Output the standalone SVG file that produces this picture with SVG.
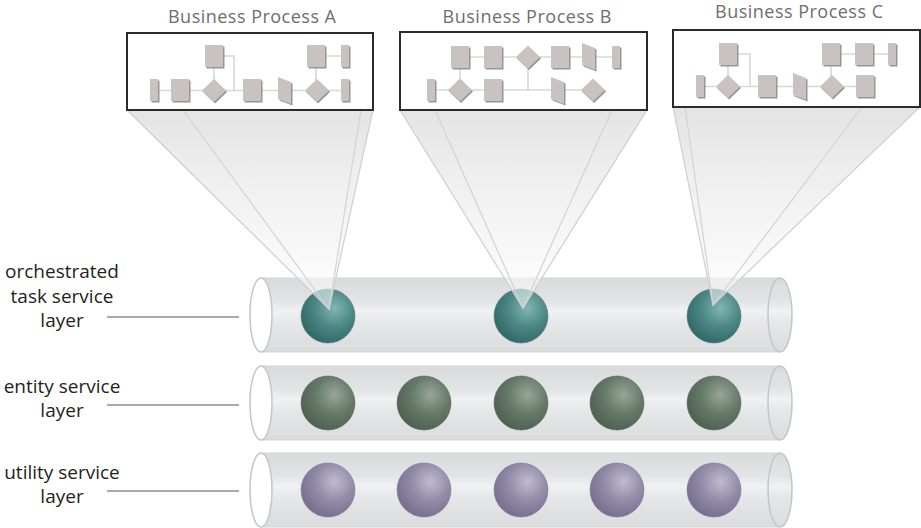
<svg xmlns="http://www.w3.org/2000/svg" width="921" height="528" viewBox="0 0 921 528">
<style>
.title{font-family:"Open Sans","Noto Sans",sans-serif;font-size:18px;fill:#6d6e70;text-anchor:middle}
.lbl{font-family:"Open Sans","Noto Sans",sans-serif;font-size:19px;fill:#231f20;text-anchor:middle}
.box{fill:#fff;stroke:#2b2b2b;stroke-width:2}
.flow{fill:none;stroke:#d9d7d7;stroke-width:1.6}
.lead{stroke:#58595b;stroke-width:1.2}
.tube{fill:url(#tubeG);stroke:#d2d3d5;stroke-width:1}
.endL{fill:#fff;stroke:#c6c7c9;stroke-width:1.6}
.endR{fill:url(#tubeG);stroke:#c6c7c9;stroke-width:1.6}
.cone{fill:url(#coneG);stroke:#cfcfcf;stroke-width:1.2}
.coneIn{fill:none;stroke:#d3d3d3;stroke-width:1.2}
.ballT{fill:url(#tealG);stroke:#4a7d7b;stroke-width:0.6}
.ballE{fill:url(#greenG);stroke:#56685a;stroke-width:0.6}
.ballU{fill:url(#purpG);stroke:#7e7893;stroke-width:0.6}
</style>
<defs>
<linearGradient id="tubeG" x1="0" y1="0" x2="0" y2="1">
<stop offset="0" stop-color="#d9dadc"/>
<stop offset="0.3" stop-color="#e2e3e5"/>
<stop offset="0.45" stop-color="#f0f1f2"/>
<stop offset="0.6" stop-color="#e6e7e9"/>
<stop offset="1" stop-color="#dadbdd"/>
</linearGradient>
<linearGradient id="coneG" gradientUnits="userSpaceOnUse" x1="0" y1="108" x2="0" y2="310">
<stop offset="0" stop-color="#e2e2e2" stop-opacity="0.95"/>
<stop offset="0.75" stop-color="#f6f6f6" stop-opacity="0.7"/>
<stop offset="1" stop-color="#ffffff" stop-opacity="0.45"/>
</linearGradient>
<radialGradient id="tealG" cx="0.62" cy="0.35" r="0.7">
<stop offset="0" stop-color="#80b6b3"/>
<stop offset="0.5" stop-color="#4d8886"/>
<stop offset="1" stop-color="#2f6765"/>
</radialGradient>
<radialGradient id="greenG" cx="0.62" cy="0.35" r="0.7">
<stop offset="0" stop-color="#97a698"/>
<stop offset="0.5" stop-color="#677a69"/>
<stop offset="1" stop-color="#4d5f50"/>
</radialGradient>
<radialGradient id="purpG" cx="0.62" cy="0.35" r="0.7">
<stop offset="0" stop-color="#c0bbd0"/>
<stop offset="0.5" stop-color="#928ca8"/>
<stop offset="1" stop-color="#746e8a"/>
</radialGradient>
<g id="sq"><rect x="1.5" y="1.5" width="18" height="22" fill="#9b9494"/><rect width="18" height="22" fill="#c8c2c2"/></g>
<g id="th"><rect x="1.5" y="1.5" width="8" height="22" fill="#9b9494"/><rect width="8" height="22" fill="#c8c2c2"/></g>
<g id="dm"><polygon points="1,-10 13,1.5 1,13 -11,1.5" fill="#9b9494"/><polygon points="0,-11.5 12,0 0,11.5 -12,0" fill="#c8c2c2"/></g>
<g id="pn"><polygon points="1.5,1.5 14.5,6.5 14.5,28.5 1.5,23.5" fill="#9b9494"/><polygon points="0,0 13,5 13,27 0,22" fill="#c8c2c2"/></g>
</defs>
<rect width="921" height="528" fill="#fff"/>

<!-- titles -->
<text class="title" x="252" y="23" textLength="168">Business Process A</text>
<text class="title" x="527" y="23" textLength="169">Business Process B</text>
<text class="title" x="799" y="18" textLength="168">Business Process C</text>

<!-- layer labels -->
<g id="label-task">
<text class="lbl" x="62" y="278">orchestrated</text>
<text class="lbl" x="62" y="303">task service</text>
<text class="lbl" x="62" y="327">layer</text>
</g>
<g id="label-entity">
<text class="lbl" x="62" y="393">entity service</text>
<text class="lbl" x="62" y="417">layer</text>
</g>
<g id="label-utility">
<text class="lbl" x="62" y="479">utility service</text>
<text class="lbl" x="62" y="503">layer</text>
</g>

<!-- tubes -->
<g id="tube-task">
<rect class="tube" x="261" y="278" width="519" height="74"/>
<ellipse class="endR" cx="780" cy="315" rx="12" ry="37"/>
<ellipse class="endL" cx="261" cy="315" rx="11" ry="37"/>
</g>
<g id="tube-entity">
<rect class="tube" x="261" y="366" width="519" height="74"/>
<ellipse class="endR" cx="780" cy="403" rx="12" ry="37"/>
<ellipse class="endL" cx="261" cy="403" rx="11" ry="37"/>
</g>
<g id="tube-utility">
<rect class="tube" x="261" y="453" width="519" height="74"/>
<ellipse class="endR" cx="780" cy="490" rx="12" ry="37"/>
<ellipse class="endL" cx="261" cy="490" rx="11" ry="37"/>
</g>

<!-- balls -->
<g id="task-1"><circle class="ballT" cx="328" cy="316" r="27"/></g>
<g id="task-2"><circle class="ballT" cx="521" cy="316" r="27"/></g>
<g id="task-3"><circle class="ballT" cx="714" cy="316" r="27"/></g>
<g id="entity-1"><circle class="ballE" cx="328" cy="403" r="27"/></g>
<g id="entity-2"><circle class="ballE" cx="424" cy="403" r="27"/></g>
<g id="entity-3"><circle class="ballE" cx="521" cy="403" r="27"/></g>
<g id="entity-4"><circle class="ballE" cx="617" cy="403" r="27"/></g>
<g id="entity-5"><circle class="ballE" cx="714" cy="403" r="27"/></g>
<g id="utility-1"><circle class="ballU" cx="328" cy="490" r="27"/></g>
<g id="utility-2"><circle class="ballU" cx="424" cy="490" r="27"/></g>
<g id="utility-3"><circle class="ballU" cx="521" cy="490" r="27"/></g>
<g id="utility-4"><circle class="ballU" cx="617" cy="490" r="27"/></g>
<g id="utility-5"><circle class="ballU" cx="714" cy="490" r="27"/></g>

<!-- connectors -->
<g id="connectors">
<line class="lead" x1="107" y1="317" x2="239" y2="317"/>
<line class="lead" x1="107" y1="405" x2="239" y2="405"/>
<line class="lead" x1="107" y1="491" x2="239" y2="491"/>
<polygon class="cone" points="127,110 373,110 329,309"/>
<path class="coneIn" d="M183,110 L329,309 L361,110"/>
<polygon class="cone" points="400,110 647,110 523,308"/>
<path class="coneIn" d="M435,110 L523,308 L612,110"/>
<polygon class="cone" points="673,107 920,107 713,305"/>
<path class="coneIn" d="M685,107 L713,305 L862,107"/>
</g>

<!-- process boxes -->
<g id="process-a">
<rect class="box" x="127" y="33" width="246" height="77"/>
<path class="flow" d="M155,90.5 H345 M214,56 V90.5 M223,56 H234 V90.5 M316,56 V90.5 M324,56 H343"/>
<use href="#sq" x="205" y="45"/>
<use href="#sq" x="307" y="45"/>
<use href="#th" x="341" y="45"/>
<use href="#th" x="150" y="79"/>
<use href="#sq" x="171" y="79"/>
<use href="#dm" x="214" y="90.5"/>
<use href="#sq" x="243" y="79"/>
<use href="#pn" x="278" y="77"/>
<use href="#dm" x="317" y="90.5"/>
<use href="#th" x="341" y="79"/>
</g>
<g id="process-b">
<rect class="box" x="400" y="32" width="247" height="78"/>
<path class="flow" d="M455,57 H616 M460,57 V90 M528,57 V90 M431,90 H593"/>
<use href="#sq" x="451" y="46"/>
<use href="#sq" x="484" y="46"/>
<use href="#dm" x="528" y="57"/>
<use href="#sq" x="551" y="46"/>
<use href="#pn" x="582" y="43"/>
<use href="#th" x="612" y="46"/>
<use href="#th" x="427" y="79"/>
<use href="#dm" x="460" y="90"/>
<use href="#sq" x="484" y="79"/>
<use href="#pn" x="551" y="77"/>
<use href="#dm" x="593" y="90"/>
</g>
<g id="process-c">
<rect class="box" x="673" y="30" width="247" height="77"/>
<path class="flow" d="M700,86.5 H865 M728,54 V86.5 M737,54 H750 V86.5 M831,54 H892 M831,54 V86.5"/>
<use href="#sq" x="719" y="43"/>
<use href="#sq" x="822" y="43"/>
<use href="#sq" x="855" y="43"/>
<use href="#th" x="888" y="43"/>
<use href="#th" x="696" y="75"/>
<use href="#dm" x="728" y="86.5"/>
<use href="#sq" x="758" y="75"/>
<use href="#pn" x="793" y="73"/>
<use href="#dm" x="832" y="86.5"/>
<use href="#sq" x="856" y="75"/>
</g>
</svg>
